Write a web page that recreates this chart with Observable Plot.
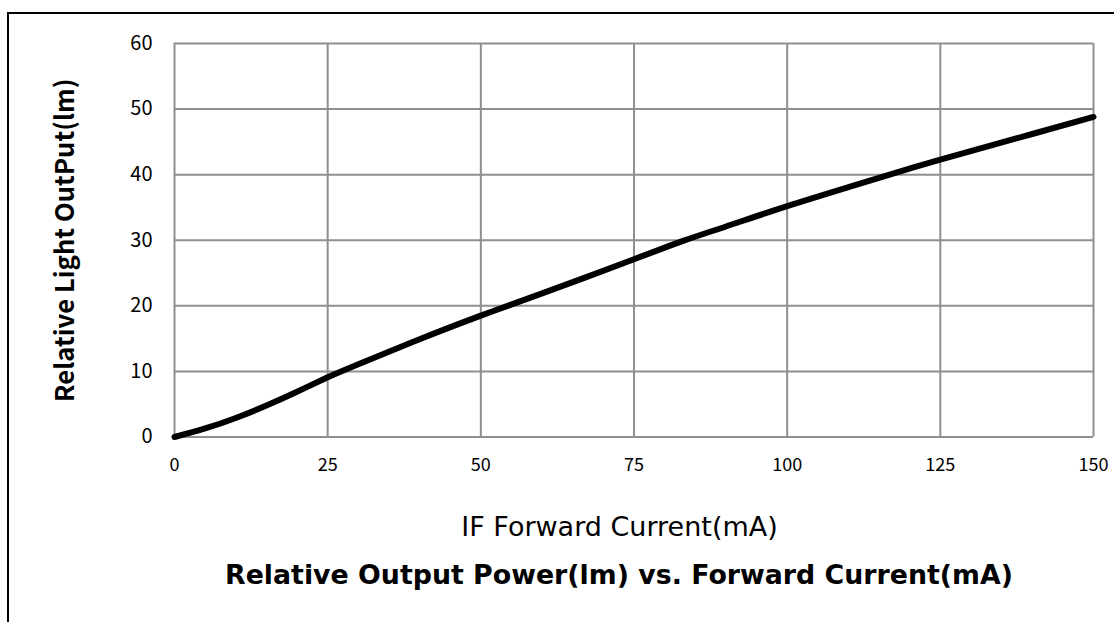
<!DOCTYPE html>
<html>
<head>
<meta charset="utf-8">
<script src="https://cdn.jsdelivr.net/npm/d3@7"></script>
<script src="https://cdn.jsdelivr.net/npm/@observablehq/plot@0.6"></script>
<style>
  html, body { margin: 0; padding: 0; background: #fff; overflow: hidden; width: 1114px; height: 622px; }
  #frame { position: absolute; left: 7px; top: 12px; width: 1200px; height: 700px; border-left: 2px solid #000; border-top: 2px solid #000; }
  #chart { position: absolute; left: 0; top: 0; }
  #title { position: absolute; left: 0; top: 558px; width: 1114px; box-sizing: border-box; padding-left: 124px; text-align: center;
           font-family: "DejaVu Sans", Verdana, sans-serif; font-weight: bold; font-size: 26.8px; line-height: 34px; color: #000; }
</style>
</head>
<body>
<div id="frame"></div>
<div id="chart"></div>
<div id="title">Relative Output Power(lm) vs. Forward Current(mA)</div>
<script>
const current = [0, 5, 10, 15, 20, 25, 30, 40, 50, 60, 75, 83, 90, 100, 110, 117, 125, 140, 150];
const output  = [0, 1.3, 2.9, 4.8, 6.9, 9.1, 11.1, 14.9, 18.5, 21.9, 27.1, 29.9, 32.1, 35.2, 38.1, 40.1, 42.3, 46.2, 48.8];
const xTicks = [0, 25, 50, 75, 100, 125, 150];
const yTicks = [0, 10, 20, 30, 40, 50, 60];
const xLabel = "IF Forward Current(mA)";
const yLabel = "Relative Light OutPut(lm)";

const data = current.map((c, i) => ({current: c, output: output[i]}));

const chart = Plot.plot({
  width: 1114,
  height: 560,
  marginLeft: 174,
  marginRight: 21,
  marginTop: 43,
  marginBottom: 123.5,
  style: { background: "transparent", fontFamily: "'Noto Sans CJK KR', 'Noto Sans', sans-serif", color: "#000" },
  x: { domain: [0, 150] },
  y: { domain: [0, 60] },
  marks: [
    Plot.gridX(xTicks, { stroke: "#8f8f8f", strokeOpacity: 1, strokeWidth: 2 }),
    Plot.gridY(yTicks, { stroke: "#8f8f8f", strokeOpacity: 1, strokeWidth: 2 }),
    Plot.axisX(xTicks, { tickSize: 0, tickPadding: 21, fontSize: 18, label: null }),
    Plot.axisY(yTicks, { tickSize: 0, tickPadding: 22, fontSize: 20, label: null }),
    Plot.text([xLabel], { frameAnchor: "bottom", lineAnchor: "middle", dx: -14.5, dy: 90, fontSize: 27, fontFamily: "'DejaVu Sans', Verdana, sans-serif", fill: "#000" }),
    Plot.text([yLabel], { frameAnchor: "left", textAnchor: "middle", lineAnchor: "middle", rotate: -90, dx: -109, dy: 0, fontSize: 25.7, fontWeight: "bold", fill: "#000" }),
    Plot.line(data, { x: "current", y: "output", curve: "natural", stroke: "#000", strokeWidth: 6 })
  ]
});
document.getElementById("chart").appendChild(chart);
</script>
</body>
</html>
